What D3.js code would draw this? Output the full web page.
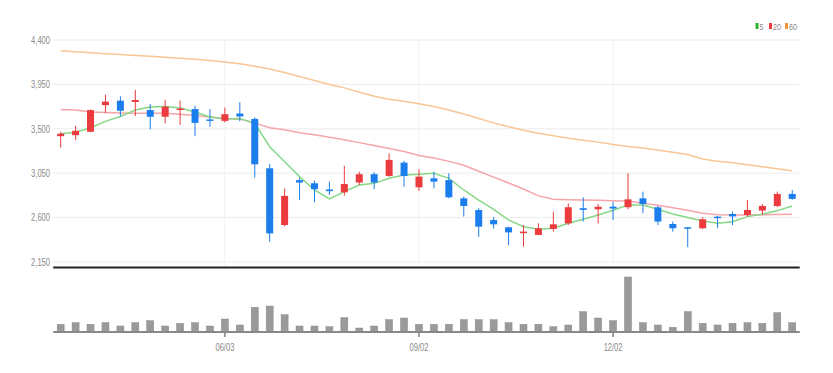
<!DOCTYPE html>
<html><head><meta charset="utf-8">
<script src="https://cdn.jsdelivr.net/npm/d3@7"></script>
<style>body{margin:0;background:#fff}svg{display:block}</style>
</head><body><svg id="c" width="833" height="373"></svg>
<script>
const dates = ["03/18","03/25","04/01","04/08","04/15","04/22","04/29","05/06","05/13","05/20","05/27","06/03","06/10","06/17","06/24","07/01","07/08","07/15","07/22","07/29","08/05","08/12","08/19","08/26","09/02","09/09","09/16","09/23","09/30","10/07","10/14","10/21","10/28","11/04","11/11","11/18","11/25","12/02","12/09","12/16","12/23","12/30","01/06","01/13","01/20","01/27","02/03","02/10","02/17","02/24"];
const open  = [3425,3435,3470,3740,3785,3772,3690,3622,3690,3700,3595,3580,3655,3600,3100,2525,2980,2948,2885,2856,2955,3040,3022,3157,2907,2998,2980,2795,2677,2575,2502,2442,2424,2485,2542,2695,2684,2711,2705,2795,2704,2535,2502,2492,2610,2637,2627,2671,2718,2840];
const close = [3450,3480,3690,3775,3683,3792,3622,3725,3705,3560,3580,3648,3625,3140,2440,2820,2955,2888,2868,2940,3040,2955,3185,3022,3015,2965,2806,2718,2508,2532,2450,2458,2492,2532,2705,2678,2710,2692,2785,2738,2560,2492,2487,2583,2594,2612,2677,2718,2840,2790];
const high  = [3470,3530,3695,3845,3830,3895,3750,3795,3785,3735,3700,3715,3770,3615,3145,2895,3005,2975,2965,3125,3065,3060,3250,3175,3090,3065,3050,2812,2695,2605,2508,2525,2542,2660,2745,2806,2738,2760,3050,2863,2718,2560,2503,2603,2617,2660,2780,2738,2863,2880];
const low   = [3310,3385,3465,3660,3625,3630,3495,3555,3540,3425,3520,3565,3575,3005,2355,2510,2780,2755,2830,2822,2930,2890,3015,2913,2870,2897,2795,2610,2405,2490,2322,2305,2422,2458,2525,2560,2542,2575,2685,2645,2525,2458,2300,2485,2492,2525,2610,2627,2705,2780];
const volume = [77,93,77,93,60,93,113,60,87,93,60,130,70,247,260,173,60,60,53,143,40,60,123,140,77,77,77,123,123,123,93,77,77,53,70,203,140,113,550,93,70,47,203,87,70,87,93,87,193,93];
const ma5  = [3450,3465,3510,3575,3625,3690,3720,3725,3710,3670,3620,3600,3605,3556,3319,3167,3015,2880,2789,2863,2930,2947,2998,3032,3040,3049,2998,2880,2778,2684,2576,2508,2482,2492,2542,2583,2627,2674,2728,2728,2684,2637,2600,2566,2542,2559,2610,2634,2671,2718];
const ma20 = [3695,3690,3670,3665,3660,3658,3657,3657,3648,3635,3620,3605,3598,3560,3510,3490,3460,3440,3415,3390,3360,3330,3300,3270,3230,3205,3170,3130,3070,3010,2950,2890,2820,2785,2780,2778,2775,2770,2768,2745,2725,2700,2675,2645,2630,2627,2627,2630,2632,2635];
const ma60 = [4290,4280,4270,4260,4252,4243,4235,4225,4215,4205,4192,4178,4160,4135,4105,4070,4030,3990,3950,3915,3870,3830,3800,3780,3755,3725,3690,3650,3605,3560,3520,3485,3455,3430,3405,3385,3365,3340,3320,3305,3285,3262,3240,3195,3170,3155,3135,3115,3095,3075];
const yTicks = [2150,2600,3050,3500,3950,4400];
const xTickLabels = ["06/03","09/02","12/02"];
const legendNames = ["5","20","60"];
const maColors = ["#86d886","#f5a5aa","#f8c594"];
const legendColors = ["#2db52d","#ee3c44","#f0963a"];
const UP = "#ec3b3f", DOWN = "#1c7ded";

const svg = d3.select("#c");
const font = "'Liberation Sans',Arial,sans-serif";
const L = 53.2, R = 799.7;
const x = d3.scaleBand().domain(dates).range([L, R]).padding(0);
const bw = x.bandwidth();
const cx = d => x(d) + bw/2;
const y = d3.scaleLinear().domain([2150,4400]).range([262,40]);
const vy = d3.scaleLinear().domain([0,600]).range([332,272]);

// grid
svg.append("g").selectAll("line").data(yTicks).join("line")
  .attr("x1", L).attr("x2", R).attr("y1", d=>y(d)).attr("y2", d=>y(d))
  .attr("stroke", "#ececec").attr("stroke-width", 1);
svg.append("g").selectAll("line").data(xTickLabels).join("line")
  .attr("x1", d=>cx(d)).attr("x2", d=>cx(d)).attr("y1", 40).attr("y2", 267)
  .attr("stroke", "#f0f0f0").attr("stroke-width", 1);

// y axis labels
const yAxis = d3.axisLeft(y).tickValues(yTicks).tickSize(0).tickPadding(0).tickFormat(d3.format(","));
const ya = svg.append("g").attr("transform", `translate(50,0)`).call(yAxis);
ya.select(".domain").remove();
ya.selectAll("text").attr("fill", "#8a8a8a").style("font-family", font).style("font-size", "10.5px")
  .attr("transform", "scale(0.72,1)");

// MA lines
[ma60, ma20, ma5].forEach((arr, k) => {
  const col = maColors[2-k];
  svg.append("path").datum(arr)
    .attr("fill", "none").attr("stroke", col).attr("stroke-width", 1.5)
    .attr("d", d3.line().x((v,i)=>cx(dates[i])).y(v=>y(v)));
});

// candles
const cg = svg.append("g");
dates.forEach((d,i) => {
  const col = close[i] >= open[i] ? UP : DOWN;
  cg.append("line").attr("x1", cx(d)).attr("x2", cx(d))
    .attr("y1", y(high[i])).attr("y2", y(low[i])).attr("stroke", col).attr("stroke-width", 1);
  const t = y(Math.max(open[i], close[i])), b = y(Math.min(open[i], close[i]));
  cg.append("rect").attr("x", cx(d)-3.5).attr("width", 7)
    .attr("y", t).attr("height", Math.max(1.5, b-t)).attr("fill", col);
});

// separator line
svg.append("line").attr("x1", L).attr("x2", R).attr("y1", 267.5).attr("y2", 267.5)
  .attr("stroke", "#222").attr("stroke-width", 2);

// volume bars
svg.append("g").selectAll("rect").data(dates).join("rect")
  .attr("x", d=>cx(d)-3.5).attr("width", 7)
  .attr("y", (d,i)=>vy(volume[i])).attr("height", (d,i)=>vy(0)-vy(volume[i]))
  .attr("fill", "#9a9a9a").attr("stroke", "#8a8a8a").attr("stroke-width", 0.5);

// volume baseline + x axis
const xAxis = d3.axisBottom(x).tickValues(xTickLabels).tickSize(5).tickPadding(7);
const xa = svg.append("g").attr("transform", `translate(0,332)`).call(xAxis);
xa.select(".domain").remove();
xa.selectAll(".tick line").attr("stroke", "#444");
xa.selectAll("text").attr("fill", "#8a8a8a").style("font-family", font).style("font-size", "10.5px")
  .attr("transform", "scale(0.72,1)");
svg.append("line").attr("x1", L).attr("x2", R).attr("y1", 332).attr("y2", 332)
  .attr("stroke", "#888").attr("stroke-width", 2);

// legend
const lg = svg.append("g");
const lx = [755.5, 769, 785];
legendNames.forEach((n,k) => {
  lg.append("rect").attr("x", lx[k]).attr("y", 23).attr("width", 3).attr("height", 6).attr("fill", legendColors[k]);
  lg.append("text").attr("transform", `translate(${lx[k]+4},29.5) scale(0.8,1)`).text(n)
    .attr("fill", "#888").style("font-family", font).style("font-size", "9px");
});
</script></body></html>
